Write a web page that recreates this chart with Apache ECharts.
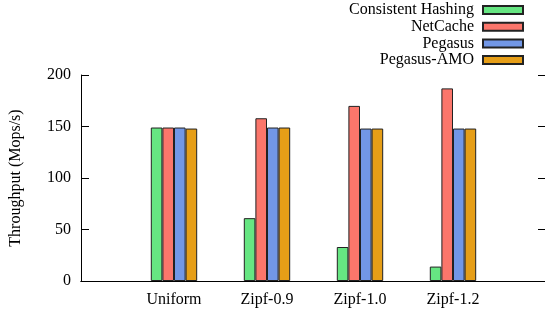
<!DOCTYPE html>
<html>
<head>
<meta charset="utf-8">
<script src="https://cdn.jsdelivr.net/npm/echarts@6/dist/echarts.min.js"></script>
<style>
  html, body { margin: 0; padding: 0; background: #fff; }
  #chart { width: 545px; height: 313px; }
</style>
</head>
<body>
<div id="chart"></div>
<script>
// workloads on the x axis (padded with blanks so groups sit at 1..4 of 0..5)
var categories = ['Uniform', 'Zipf-0.9', 'Zipf-1.0', 'Zipf-1.2'];
var xLabels = [''].concat(categories, ['']);

var seriesNames = ['Consistent Hashing', 'NetCache', 'Pegasus', 'Pegasus-AMO'];
var consistentHashing = [149, 61, 33, 14];
var netCache = [149, 158, 170, 187];
var pegasus = [149, 149, 148, 148];
var pegasusAmo = [148, 149, 148, 148];

var yTicks = [0, 50, 100, 150, 200];

var colors = ['#66e682', '#fb766b', '#7297e6', '#e69e17'];
var values = [consistentHashing, netCache, pegasus, pegasusAmo];

function pad(arr) {
    return ['-'].concat(arr, ['-']);
}

var font = 'Liberation Serif';
var myChart = echarts.init(document.getElementById('chart'));

var series = values.map(function (v, i) {
    return {
        name: seriesNames[i],
        type: 'bar',
        data: pad(v),
        barWidth: 11.6,
        barGap: '0%',
        itemStyle: { color: colors[i], borderColor: '#222', borderWidth: 1 },
        xAxisIndex: 0,
        yAxisIndex: 0
    };
});

var option = {
    animation: false,
    textStyle: { fontFamily: font },
    grid: { left: 81, right: -1, top: 75, bottom: 32, outerBoundsMode: 'none', containLabel: false },
    legend: {
        orient: 'vertical',
        right: 16,
        top: -3,
        align: 'right',
        itemWidth: 40,
        itemHeight: 8,
        itemGap: 0.7,
        icon: 'rect',
        selectedMode: false,
        textStyle: { fontFamily: font, fontSize: 16, color: '#000', lineHeight: 16, padding: [0, 4, 0, 0] },
        data: seriesNames
    },
    xAxis: [{
        type: 'category',
        data: xLabels,
        boundaryGap: false,
        axisLine: { lineStyle: { color: '#000', width: 1 } },
        axisTick: { show: false },
        axisLabel: { color: '#000', fontSize: 16, fontFamily: font, margin: 11, interval: 0 },
        splitLine: { show: false }
    }, {
        type: 'category',
        data: xLabels,
        position: 'top',
        boundaryGap: false,
        axisLine: { lineStyle: { color: '#000', width: 1 } },
        axisTick: { show: false },
        axisLabel: { show: false }
    }],
    yAxis: [{
        type: 'value',
        min: yTicks[0],
        max: yTicks[yTicks.length - 1],
        interval: 50,
        name: 'Throughput (Mops/s)',
        nameLocation: 'middle',
        nameGap: 57,
        nameTextStyle: { color: '#000', fontSize: 16, fontFamily: font },
        axisLine: { show: true, lineStyle: { color: '#000', width: 1 } },
        axisTick: { show: true, inside: true, length: 8, lineStyle: { color: '#000' } },
        axisLabel: { color: '#000', fontSize: 16, fontFamily: font, margin: 10 },
        splitLine: { show: false }
    }, {
        type: 'value',
        min: yTicks[0],
        max: yTicks[yTicks.length - 1],
        interval: 50,
        position: 'right',
        axisLine: { show: true, lineStyle: { color: '#000', width: 1 } },
        axisTick: { show: true, inside: true, length: 8, lineStyle: { color: '#000' } },
        axisLabel: { show: false },
        splitLine: { show: false }
    }],
    series: series
};

myChart.setOption(option);
</script>
</body>
</html>
